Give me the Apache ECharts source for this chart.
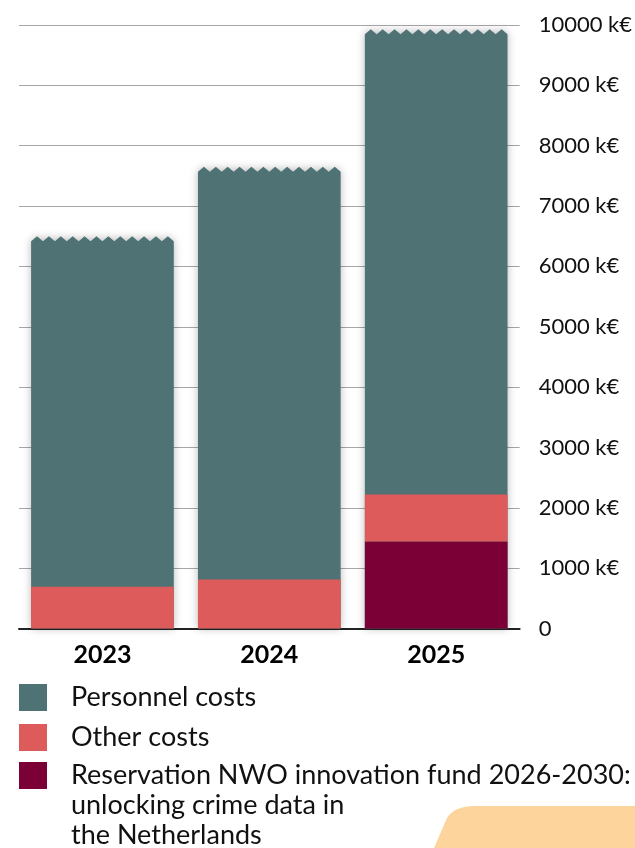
<!DOCTYPE html>
<html>
<head>
<meta charset="utf-8">
<script src="https://cdn.jsdelivr.net/npm/echarts@6/dist/echarts.min.js"></script>
<style>
  html, body { margin: 0; padding: 0; background: #ffffff; }
  #chart { width: 635px; height: 848px; }
</style>
</head>
<body>
<div id="chart"></div>
<script>
// ---- data ----
const years = ['2023', '2024', '2025'];
const personnelCosts = [5810, 6840, 7710];
const otherCosts = [690, 810, 780];
const reservationNWO = [0, 0, 1440];
const yTicks = [0, 1000, 2000, 3000, 4000, 5000, 6000, 7000, 8000, 9000, 10000];
const seriesNames = [
  'Personnel costs',
  'Other costs',
  'Reservation NWO innovation fund 2026-2030: unlocking crime data in the Netherlands'
];
const reservationFirstLine = 'Reservation NWO innovation fund 2026-2030:';
const reservationExtraLines = ['unlocking crime data in', 'the Netherlands'];

const colors = { personnel: '#4F7375', other: '#DE5B5B', reservation: '#7A0036' };
const FONT = 'Lato, "Open Sans", sans-serif';
const BAR_RATIO = 0.855;

const personnelData = years.map((y, i) => {
  const base = reservationNWO[i] + otherCosts[i];
  return [i, base, base + personnelCosts[i]];
});

// decorative corner shape (rounded top-left, slanted left edge)
function cornerShape() {
  const pts = [[434, 848], [447, 818]];
  const p0 = [447, 818], c = [454, 806], p1 = [476, 806];
  for (let t = 0.1; t <= 1.0001; t += 0.1) {
    const a = (1 - t) * (1 - t), b = 2 * (1 - t) * t, d = t * t;
    pts.push([a * p0[0] + b * c[0] + d * p1[0], a * p0[1] + b * c[1] + d * p1[1]]);
  }
  pts.push([635, 806], [635, 848]);
  return pts;
}

const chart = echarts.init(document.getElementById('chart'));

function renderPersonnel(params, api) {
  const idx = api.value(0);
  const top = api.value(2);
  const bottomPt = api.coord([idx, 0]);
  const topPt = api.coord([idx, top]);
  const w = api.size([1, 0])[0] * BAR_RATIO;
  const x0 = bottomPt[0] - w / 2;
  const x1 = bottomPt[0] + w / 2;
  const teeth = 12;
  const amp = 5;
  const pts = [[x0, bottomPt[1]], [x0, topPt[1] + amp]];
  const step = w / teeth;
  for (let t = 0; t < teeth; t++) {
    pts.push([x0 + step * (t + 0.5), topPt[1]]);
    pts.push([x0 + step * (t + 1), topPt[1] + amp]);
  }
  pts.push([x1, bottomPt[1]]);
  return {
    type: 'polygon',
    shape: { points: pts },
    style: {
      fill: colors.personnel,
      shadowBlur: 8,
      shadowColor: 'rgba(0,0,0,0.28)'
    }
  };
}

const legendText = { fontFamily: FONT, fontSize: 27, color: '#111', padding: [0, 0, 0, 19] };

const option = {
  backgroundColor: '#ffffff',
  animation: false,
  textStyle: { fontFamily: FONT },
  grid: { left: 19, right: 114, top: 25, bottom: 219.5 },
  xAxis: {
    type: 'category',
    data: years,
    axisTick: { show: false },
    axisLine: { show: true, lineStyle: { color: '#222', width: 2 } },
    axisLabel: {
      fontFamily: FONT, fontSize: 25, fontWeight: 'bold', color: '#000', margin: 14
    }
  },
  yAxis: {
    type: 'value',
    position: 'right',
    min: yTicks[0],
    max: yTicks[yTicks.length - 1],
    interval: 1000,
    axisLine: { show: false },
    axisTick: { show: false },
    splitLine: { lineStyle: { color: '#A6A6A6', width: 1 } },
    axisLabel: {
      fontFamily: FONT, fontSize: 22, color: '#111', margin: 19,
      formatter: v => v === 0 ? '0' : v + ' k€'
    }
  },
  legend: [
    {
      left: 14, top: 679, itemWidth: 28, itemHeight: 27,
      icon: 'rect', data: [seriesNames[0]], textStyle: legendText
    },
    {
      left: 14, top: 719, itemWidth: 28, itemHeight: 27,
      icon: 'rect', data: [seriesNames[1]], textStyle: legendText
    },
    {
      left: 14, top: 757, itemWidth: 28, itemHeight: 27,
      icon: 'rect', data: [seriesNames[2]],
      formatter: () => reservationFirstLine,
      textStyle: legendText
    }
  ],
  graphic: [
    {
      type: 'polygon', z: -1, silent: true,
      shape: { points: cornerShape() },
      style: { fill: '#FDD59C' }
    },
    {
      type: 'text', left: 71, top: 792,
      style: { text: reservationExtraLines[0], fontFamily: FONT, fontSize: 27, fill: '#111' }
    },
    {
      type: 'text', left: 71, top: 822,
      style: { text: reservationExtraLines[1], fontFamily: FONT, fontSize: 27, fill: '#111' }
    }
  ],
  series: [
    {
      name: seriesNames[0],
      type: 'custom',
      z: 1,
      itemStyle: { color: colors.personnel },
      encode: { x: 0, y: [1, 2] },
      data: personnelData,
      renderItem: renderPersonnel
    },
    {
      name: seriesNames[2],
      type: 'bar', stack: 'cost', z: 3,
      barWidth: (BAR_RATIO * 100) + '%',
      itemStyle: { color: colors.reservation },
      data: reservationNWO
    },
    {
      name: seriesNames[1],
      type: 'bar', stack: 'cost', z: 3,
      barWidth: (BAR_RATIO * 100) + '%',
      itemStyle: { color: colors.other },
      data: otherCosts
    }
  ]
};

chart.setOption(option);
</script>
</body>
</html>
